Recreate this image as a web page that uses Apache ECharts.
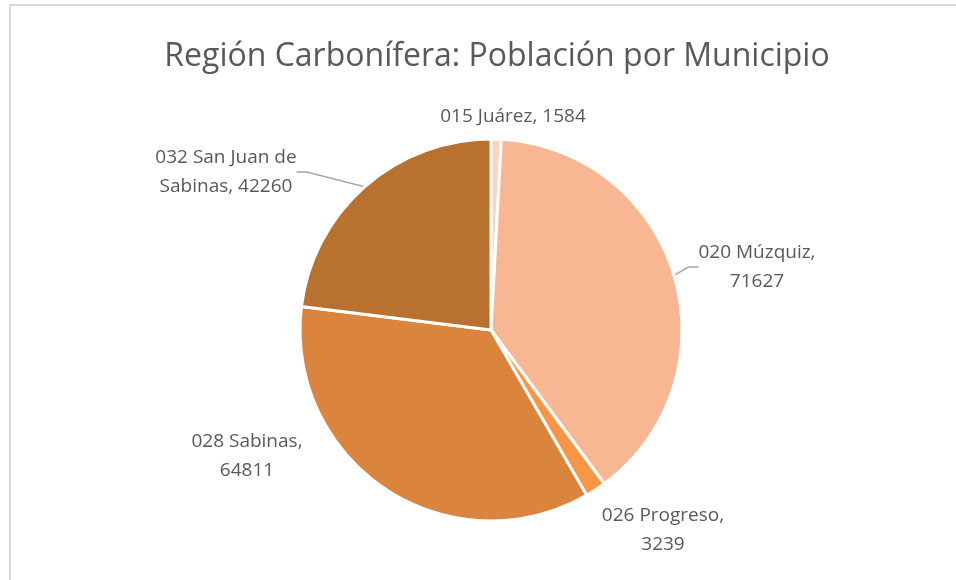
<!DOCTYPE html>
<html>
<head>
<meta charset="utf-8">
<title>Región Carbonífera: Población por Municipio</title>
<script src="https://cdn.jsdelivr.net/npm/echarts@6/dist/echarts.min.js"></script>
<style>
	html, body { margin: 0; padding: 0; background: #fff; }
</style>
</head>
<body>
	<div id="main" style="width: 956px; height: 580px;"></div>
	<script type="text/javascript">
		// datos del grafico
		var municipios = ['015 Juárez', '020 Múzquiz', '026 Progreso', '028 Sabinas', '032 San Juan de Sabinas'];
		var poblacion = [1584, 71627, 3239, 64811, 42260];
		var etiquetas = ['015 Juárez, 1584', '020 Múzquiz,\n71627', '026 Progreso,\n3239', '028 Sabinas,\n64811', '032 San Juan de\nSabinas, 42260'];
		var colores = ['#FBD5C0', '#F8B792', '#F79646', '#DA843E', '#B9712F'];

		// posicion de cada etiqueta (como en el original)
		var posEtiquetas = [
			{ x: 513, y: 117 },
			{ x: 757, y: 267 },
			{ x: 663, y: 530 },
			{ x: 247, y: 456 },
			{ x: 226, y: 172 }
		];
		var conLinea = [false, true, false, false, true];

		var showData = [];
		for (var i = 0; i < municipios.length; i++) {
			showData.push({
				value: poblacion[i],
				name: municipios[i],
				itemStyle: { color: colores[i] },
				label: { formatter: etiquetas[i] },
				labelLine: { show: conLinea[i] }
			});
		}

		var myChart = echarts.init(document.getElementById('main'));
		myChart.setOption({
			animation: false,
			title: {
				text: 'Región Carbonífera: Población por Municipio',
				left: 492,
				textAlign: 'center',
				top: 36,
				textStyle: {
					fontFamily: 'Open Sans',
					fontWeight: 'normal',
					fontSize: 32,
					color: '#595959'
				}
			},
			graphic: [{
				type: 'rect',
				shape: { x: 10, y: 5, width: 1000, height: 700 },
				style: { fill: 'none', stroke: '#d9d9d9', lineWidth: 2 },
				silent: true
			}],
			series: [{
				name: 'Población',
				type: 'pie',
				center: [491, 330],
				radius: 191,
				startAngle: 90,
				clockwise: true,
				itemStyle: { borderColor: '#fff', borderWidth: 3 },
				label: {
					show: true,
					position: 'outside',
					fontFamily: 'Open Sans',
					fontSize: 19,
					lineHeight: 29,
					color: '#595959',
					align: 'center'
				},
				labelLine: {
					length: 10,
					length2: 10,
					lineStyle: { color: '#a6a6a6', width: 1.5 }
				},
				labelLayout: function (params) {
					var p = posEtiquetas[params.dataIndex];
					return { x: p.x, y: p.y, align: 'center', verticalAlign: 'middle' };
				},
				data: showData
			}]
		});
	</script>
</body>
</html>
